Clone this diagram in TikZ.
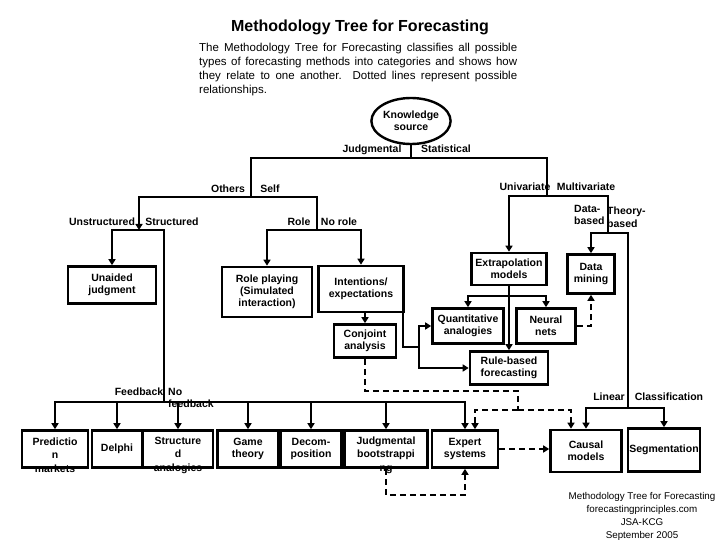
\documentclass[tikz,border=0pt]{standalone}
\usepackage{fontspec}
\setmainfont{Liberation Sans}
\usetikzlibrary{arrows.meta,shapes.geometric}

\begin{document}
\begin{tikzpicture}[x=1pt, y=-1pt,
  box/.style={draw, line width=2.6pt, inner sep=1pt, align=center,
    font=\fontsize{10.5}{12}\selectfont\bfseries},
  boxtxt/.style={inner sep=0pt, align=center,
    font=\fontsize{10.5}{13.5}\selectfont\bfseries},
  lbl/.style={inner sep=0pt, font=\fontsize{10.5}{12.5}\selectfont\bfseries},
  tree/.style={line width=2.4pt},
  arr/.style={line width=2.4pt, -{Triangle[length=6pt,width=7pt]}},
  dsh/.style={line width=1.8pt, dash pattern=on 6pt off 4pt},
  darr/.style={dsh, -{Triangle[length=6pt,width=7pt]}}]
\fill[white] (0,0) rectangle (720,540);
\useasboundingbox (0,0) rectangle (720,540);

\node[font=\fontsize{16}{18}\selectfont\bfseries] (title) at (360,27)
  {Methodology Tree for Forecasting};
\node[anchor=north west, inner sep=0pt, text width=318pt, align=justify,
  font=\fontsize{11.5}{14}\selectfont] (intro) at (199,43)
  {The Methodology Tree for Forecasting classifies all possible\linebreak
   types of forecasting methods into categories and shows how\linebreak
   they relate to one another. Dotted lines represent possible\linebreak
   relationships.};

\node[ellipse, draw, line width=2.4pt, minimum width=78pt, minimum height=46pt,
  inner sep=0pt, align=center, font=\fontsize{10.5}{12}\selectfont\bfseries]
  (ks) at (411,121) {Knowledge\\source};

\node[box, minimum width=88, minimum height=37] (ua) at (112,285) {Unaided\\judgment};
\node[box, minimum width=90, minimum height=50] (rp) at (267,292)
  {Role playing\\(Simulated\\interaction)};
\node[box, minimum width=85, minimum height=46] (ie) at (361,289) {Intentions/\\expectations};
\node[box, minimum width=62, minimum height=33] (ca) at (365,341) {Conjoint\\analysis};
\node[box, minimum width=75, minimum height=32] (ex) at (509,269) {Extrapolation\\models};
\node[box, minimum width=47, minimum height=39] (dm) at (591,274) {Data\\mining};
\node[box, minimum width=71, minimum height=35] (qa) at (468,326) {Quantitative\\analogies};
\node[box, minimum width=59, minimum height=35] (nn) at (546,326) {Neural\\nets};
\node[box, minimum width=78, minimum height=33] (rb) at (509,368) {Rule-based\\forecasting};

\node[box, minimum width=66, minimum height=37] (pm) at (55,449) {};
\node[boxtxt] (pmt) at (55,455) {Predictio\\n\\markets};
\node[box, minimum width=50, minimum height=37] (de) at (117,449) {Delphi};
\node[box, minimum width=70, minimum height=37] (sa) at (178,449) {};
\node[boxtxt] (sat) at (178,455) {Structure\\d\\analogies};
\node[box, minimum width=61, minimum height=37] (gt) at (248,449) {Game\\theory};
\node[box, minimum width=61, minimum height=37] (dc) at (311,449) {Decom-\\position};
\node[box, minimum width=83, minimum height=37] (jb) at (386,449) {};
\node[boxtxt] (jbt) at (386,455) {Judgmental\\bootstrappi\\ng};
\node[box, minimum width=66, minimum height=37] (es) at (465,449) {Expert\\systems};
\node[box, minimum width=71, minimum height=42] (cm) at (586,451) {Causal\\models};
\node[box, minimum width=72, minimum height=43] (sg) at (664,450) {Segmentation};

\node[lbl] (lJud) at (372,150) {Judgmental};
\node[lbl] (lSta) at (446,149) {Statistical};
\node[lbl] (lOth) at (228,189) {Others};
\node[lbl] (lSelf) at (270,189) {Self};
\node[lbl] (lUns) at (102,222) {Unstructured};
\node[lbl] (lStr) at (172,222) {Structured};
\node[lbl] (lRole) at (299,222) {Role};
\node[lbl] (lNoR) at (339,222) {No role};
\node[lbl] (lFb) at (139,392) {Feedback};
\node[lbl, anchor=west, align=left] (lNoF) at (168,398) {No\\feedback};
\node[lbl] (lUni) at (525,187) {Univariate};
\node[lbl] (lMul) at (586,187) {Multivariate};
\node[lbl, anchor=west, align=left] (lDat) at (574,215) {Data-\\based};
\node[lbl, anchor=west, align=left] (lThe) at (607,217) {Theory-\\based};
\node[lbl] (lLin) at (609,397) {Linear};
\node[lbl] (lCla) at (669,397) {Classification};

\node[align=center, inner sep=0pt, font=\fontsize{9.8}{13}\selectfont] (cred)
  at (642,516) {Methodology Tree for Forecasting\\forecastingprinciples.com\\
  JSA-KCG\\September 2005};

\coordinate (sKS) at (411,158);
\coordinate (sOS) at (251,197);
\coordinate (sUS) at (139,230);
\coordinate (sRN) at (317,230);
\coordinate (sFB) at (164,402);
\coordinate (sUM) at (547,196);
\coordinate (sDT) at (608,233);
\coordinate (sLC) at (628,408);
\coordinate (sQN) at (509,296);
\coordinate (sIE) at (419,347);
\coordinate (sCJ) at (518,391);
\coordinate (sXC) at (518,410);
\coordinate (sJB) at (430,495);

\draw[tree] (ks) -- (sKS);
\draw[tree] (sOS) |- (sKS) -| (sUM);
\draw[tree] (sOS) -| (sRN);
\draw[arr] (sOS) -| (sUS);
\draw[arr] (sUS) -| (ua);
\draw[tree] (sUS) -| (sFB);
\draw[arr] (sRN) -| (rp);
\draw[arr] (sRN) -| (ie);
\draw[arr] (ca.north |- ie.south) -- (ca.north);
\draw[tree] ([xshift=-2pt]ie.south east) |- (sIE);
\draw[arr] (sIE) |- (qa);
\draw[arr] (sIE) |- (rb);
\foreach \b in {pm,de,sa,gt,dc,jb,es}
  \draw[arr] (sFB) -| (\b);

\draw[arr] (sUM) -| (ex);
\draw[tree] (sUM) -| (sDT);
\draw[arr] (sDT) -| (dm);
\draw[tree] (sDT) -| (sLC);
\draw[arr] (sLC) -| (cm);
\draw[arr] (sLC) -| (sg);
\draw[arr] (ex) -- (rb);
\draw[arr] (sQN) -| (qa);
\draw[arr] (sQN) -| (nn);

\draw[darr] (nn) -| (dm);
\draw[dsh] (ca) |- (sCJ) -- (sXC);
\draw[darr] (sXC) -| ([xshift=10pt]es.north);
\draw[darr] (sXC) -| ([xshift=-15pt]cm.north);
\draw[darr] (jb) |- (sJB) -| (es);
\draw[darr, line width=2.6pt] (es) -- (es -| cm.west);
\end{tikzpicture}
\end{document}
